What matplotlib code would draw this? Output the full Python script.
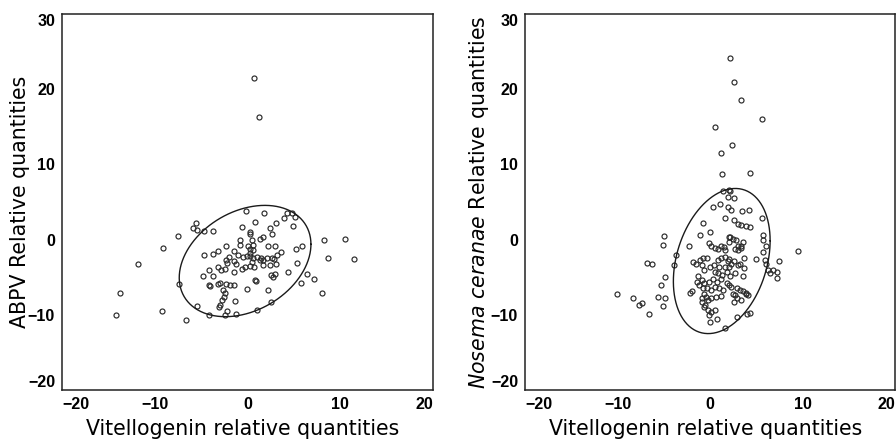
import numpy as np
import matplotlib
matplotlib.use('Agg')
import matplotlib.pyplot as plt

plt.rcParams['font.family'] = ['DejaVu Sans']
plt.rcParams['mathtext.fontset'] = 'dejavusans'

# ABPV panel
abpv_pts = [(0.7, 21.5), (1.2, 16.3), (-14.2, -10.0), (-13.8, -7.1), (-11.8, -3.2), (-9.2, -9.5),
            (-9.1, -1.1), (-7.5, 0.5), (-7.4, -5.9), (-6.6, -10.7), (-5.4, -8.8), (-5.6, 2.2),
            (-5.9, 1.5), (-5.4, 1.3), (-4.7, 1.2), (-3.7, 1.2), (-4.7, -2.0), (-3.7, -1.9),
            (-3.2, -1.5), (-4.8, -4.8), (-4.1, -4.1), (-3.7, -4.8), (-4.2, -6.1), (-4.0, -6.2),
            (-3.2, -3.6), (-3.2, -5.9), (-4.1, -10.0), (-2.4, -10.0), (-2.2, -9.5), (-1.2, -9.9),
            (-1.3, -8.1), (1.0, -9.3), (2.5, -8.3), (-0.2, 3.8), (0.8, 2.4), (1.8, 3.5),
            (-0.6, 1.7), (0.3, 1.0), (0.3, 0.8), (2.4, 1.5), (2.6, 0.7), (3.1, 2.2), (3.9, 2.9),
            (4.3, 3.5), (4.8, 3.5), (5.1, 3.0), (4.9, 1.8), (1.7, 0.4), (1.3, 0.1), (-2.3, -0.9),
            (-1.5, -1.5), (-0.8, -0.7), (0.0, -0.8), (0.5, -0.1), (0.6, -0.7), (0.3, -1.2),
            (0.6, -1.4), (2.2, -0.9), (3.0, -0.9), (3.6, -1.7), (3.2, -2.1), (-2.0, -2.3),
            (-2.3, -2.7), (-2.2, -3.1), (-1.5, -2.9), (-1.2, -3.2), (-1.0, -2.1), (-0.5, -2.3),
            (-0.1, -2.2), (0.3, -2.2), (0.6, -2.4), (1.0, -2.3), (1.5, -2.4), (2.1, -2.5),
            (2.6, -2.5), (2.9, -2.6), (3.1, -3.3), (-2.9, -4.0), (-2.4, -3.9), (-1.5, -4.3),
            (-0.6, -3.9), (-0.3, -3.6), (0.3, -3.5), (0.7, -3.6), (1.3, -2.7), (1.7, -2.7),
            (2.5, -4.7), (2.7, -5.0), (3.0, -4.6), (4.4, -4.3), (5.3, -3.1), (-3.0, -5.8),
            (-2.3, -5.9), (-1.9, -6.0), (-1.5, -6.1), (-0.1, -6.6), (0.8, -5.4), (0.9, -5.5),
            (2.2, -6.7), (-2.6, -6.7), (-2.4, -7.1), (-2.5, -7.6), (-2.8, -8.0), (-3.0, -8.7),
            (-3.1, -8.9), (5.2, -1.3), (5.9, -0.9), (6.4, -4.6), (7.2, -5.3), (5.8, -5.8),
            (8.0, -7.1), (8.2, -0.1), (8.7, -2.5), (10.5, 0.1), (11.5, -2.6), (2.4, -3.4),
            (1.7, -3.4), (-0.8, 0.0), (0.3, -1.8), (0.5, -3.0)]

nosema_pts = [(2.2, 24.1), (2.6, 20.9), (3.4, 18.6), (5.6, 16.1), (0.5, 15.0), (2.4, 12.6),
              (1.2, 11.5), (1.3, 8.7), (4.3, 8.9), (-10.1, -7.2), (-8.3, -7.8), (-7.7, -8.7),
              (-7.3, -8.4), (-6.6, -9.9), (-6.8, -3.1), (-6.3, -3.2), (-5.0, 0.5), (-5.1, -0.7),
              (-4.9, -5.0), (-5.3, -6.0), (-5.6, -7.6), (-4.9, -7.7), (-5.1, -8.8), (-3.7, -2.0),
              (-3.9, -3.4), (-2.3, -0.8), (-2.2, -7.1), (-2.0, -6.8), (1.4, 6.5), (2.0, 6.6),
              (2.2, 6.5), (1.9, 5.6), (2.6, 5.5), (1.1, 4.7), (0.3, 4.4), (1.9, 4.4), (2.3, 3.9),
              (1.6, 2.9), (2.6, 2.6), (3.0, 2.1), (3.4, 1.9), (3.9, 1.8), (4.3, 1.7), (3.5, 3.8),
              (4.2, 4.0), (5.6, 2.9), (-0.8, 2.2), (0.0, 1.0), (-1.1, 0.6), (5.7, 0.6), (5.7, -0.1),
              (6.1, -0.9), (5.7, -1.6), (5.0, -2.6), (5.9, -2.7), (6.1, -3.2), (6.3, -4.0),
              (6.5, -4.5), (6.8, -4.0), (7.2, -4.3), (7.2, -5.1), (7.5, -2.8), (9.5, -1.5),
              (3.7, -3.8), (3.6, -4.8), (3.7, -2.5), (-0.1, -0.4), (0.1, -0.9), (0.5, -1.1),
              (0.9, -1.2), (1.2, -0.9), (1.5, -1.0), (2.0, 0.4), (2.2, 0.3), (2.5, 0.1), (2.1, -0.3),
              (2.8, 0.0), (3.0, -0.8), (3.3, -1.1), (3.6, -0.3), (1.6, -1.4), (2.7, -1.2),
              (3.0, -1.4), (3.4, -0.9), (-1.8, -3.0), (-1.5, -3.2), (-1.1, -2.7), (-0.8, -2.5),
              (-0.3, -2.4), (-0.9, -3.4), (-0.6, -4.0), (0.0, -3.6), (0.4, -3.4), (0.9, -2.7),
              (1.2, -2.5), (1.6, -2.3), (1.9, -2.8), (2.1, -2.6), (2.3, -3.2), (2.6, -2.9),
              (3.0, -3.4), (3.2, -3.2), (0.5, -4.3), (0.9, -4.5), (1.3, -4.7), (1.8, -4.3),
              (2.2, -4.8), (2.7, -4.5), (2.1, -3.6), (1.6, -3.6), (1.0, -3.6), (-1.3, -4.9),
              (-0.9, -5.4), (-0.6, -5.8), (-0.1, -5.6), (0.3, -5.3), (0.8, -5.7), (1.2, -5.2),
              (1.8, -5.8), (2.3, -6.3), (2.9, -6.5), (3.2, -6.7), (3.6, -6.8), (3.9, -7.2),
              (4.1, -7.4), (-1.4, -5.7), (-1.2, -6.0), (-0.8, -6.5), (-0.3, -6.4), (0.1, -6.7),
              (0.5, -6.3), (1.0, -6.5), (1.4, -6.7), (2.0, -6.0), (2.5, -7.2), (2.7, -7.4),
              (2.9, -7.8), (2.6, -8.3), (3.4, -8.0), (-0.6, -7.2), (-0.4, -7.6), (-0.2, -8.0),
              (0.1, -7.8), (0.7, -7.6), (1.2, -7.5), (-0.5, -8.7), (-0.6, -9.0), (-0.2, -9.3),
              (0.1, -9.6), (0.5, -9.4), (-0.1, -10.0), (0.0, -10.9), (0.8, -10.5), (1.6, -11.7),
              (2.9, -10.3), (4.0, -9.9), (4.3, -9.7), (3.9, -7.1), (-0.9, -7.8), (-0.9, -8.3)]

abpv_vg = [p[0] for p in abpv_pts]
abpv_q = [p[1] for p in abpv_pts]
nosema_vg = [p[0] for p in nosema_pts]
nosema_q = [p[1] for p in nosema_pts]

# ellipse: centre, half extent in x and y, correlation
abpv_ell = (-0.26, -2.85, 7.1, 7.4, 0.30)
nosema_ell = (1.27, -2.85, 5.23, 9.65, 0.28)

xticks = [-20, -10, 0, 10, 20]
yticks = [-20, -10, 0, 10, 20, 30]


def ellipse_xy(cx, cy, hx, hy, r):
    t = np.linspace(0, 2 * np.pi, 300)
    x = cx + hx * np.cos(t)
    y = cy + hy * (r * np.cos(t) + np.sqrt(1 - r * r) * np.sin(t))
    return x, y


def panel(ax, xs, ys, ell, ylabel, ylabel_x):
    ax.plot(xs, ys, 'o', ms=3.6, mfc='none', mec='#2a2a2a', mew=0.85)
    ex, ey = ellipse_xy(*ell)
    ax.plot(ex, ey, '-', color='#1a1a1a', lw=1.0)
    ax.set_xlim(-20, 20)
    ax.set_ylim(-20, 30)
    ax.set_xticks(xticks)
    ax.set_yticks(yticks)
    ax.tick_params(length=0, pad=5)
    for lab in ax.get_xticklabels() + ax.get_yticklabels():
        lab.set_fontweight('bold')
        lab.set_family('Liberation Sans')
        lab.set_fontsize(11.5)
    xl = ax.get_xticklabels()
    xl[0].set_ha('left')
    xl[-1].set_ha('right')
    yl = ax.get_yticklabels()
    yl[0].set_va('bottom')
    yl[-1].set_va('top')
    for s in ax.spines.values():
        s.set_linewidth(1.1)
        s.set_color('#222222')
    ax.set_xlabel('Vitellogenin relative quantities', fontsize=14.8)
    ax.xaxis.set_label_coords(0.488, -0.078)
    ax.set_ylabel(ylabel, fontsize=14.8)
    ax.yaxis.set_label_coords(ylabel_x, 0.5)


fig = plt.figure(figsize=(8.96, 4.42), dpi=100)
ax1 = fig.add_axes([62 / 896, 52 / 442, 371 / 896, 376 / 442])
ax2 = fig.add_axes([525 / 896, 52 / 442, 370 / 896, 376 / 442])

panel(ax1, abpv_vg, abpv_q, abpv_ell, 'ABPV Relative quantities', -0.086)
panel(ax2, nosema_vg, nosema_q, nosema_ell,
      r'$\mathit{Nosema\ ceranae}$ Relative quantities', -0.093)

fig.savefig('out.png', dpi=100)
